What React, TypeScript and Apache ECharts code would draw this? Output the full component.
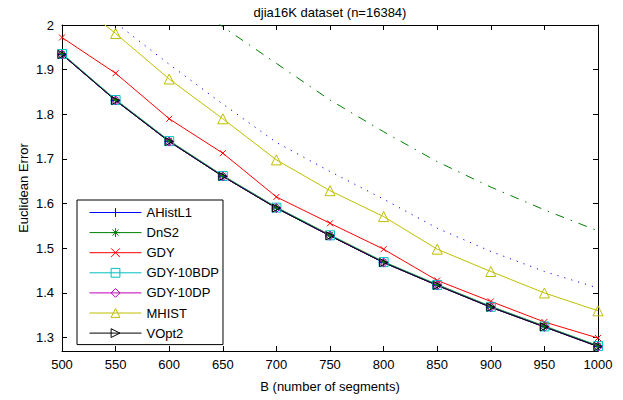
import React, { useEffect, useRef } from "react";
import * as echarts from "echarts";

const segments = [500, 550, 600, 650, 700, 750, 800, 850, 900, 950, 1000];
const aHistL1 = [1.934, 1.831, 1.739, 1.661, 1.59, 1.528, 1.468, 1.417, 1.368, 1.324, 1.28];
const dnS2 = [1.936, 1.833, 1.741, 1.663, 1.592, 1.53, 1.47, 1.419, 1.37, 1.326, 1.282];
const gdy = [1.972, 1.892, 1.79, 1.713, 1.615, 1.556, 1.498, 1.428, 1.381, 1.335, 1.299];
const gdy10BDP = [1.935, 1.832, 1.74, 1.662, 1.591, 1.529, 1.469, 1.418, 1.369, 1.325, 1.281];
const gdy10DP = [1.934, 1.831, 1.739, 1.661, 1.59, 1.528, 1.468, 1.417, 1.368, 1.324, 1.28];
const mHist = [2.076, 1.981, 1.879, 1.79, 1.698, 1.629, 1.571, 1.498, 1.448, 1.4, 1.36];
const vOpt2 = [1.934, 1.831, 1.739, 1.661, 1.59, 1.528, 1.468, 1.417, 1.368, 1.324, 1.28];
const dottedRef = [2.11, 2.005, 1.912, 1.823, 1.737, 1.672, 1.61, 1.545, 1.493, 1.448, 1.411];
const dashDotRef = [2.28, 2.18, 2.085, 1.996, 1.914, 1.832, 1.761, 1.694, 1.637, 1.586, 1.539];
const yTickValues = [1.3, 1.4, 1.5, 1.6, 1.7, 1.8, 1.9, 2];
const legendNames = ["AHistL1", "DnS2", "GDY", "GDY-10BDP", "GDY-10DP", "MHIST", "VOpt2"];
const legendColors = ["#0000ff", "#008000", "#ff0000", "#00bfbf", "#bf00bf", "#bfbf00", "#000000"];

const FONT = "'Liberation Sans', Arial, Helvetica, sans-serif";

const PLUS = "path://M0,-5L0,5M-5,0L5,0";
const CROSS = "path://M-5,-5L5,5M-5,5L5,-5";
const STAR = "path://M0,-5L0,5M-5,0L5,0M-3.5,-3.5L3.5,3.5M-3.5,3.5L3.5,-3.5";
const RTRI = "path://M0,0L10,5L0,10Z";

function pairs(vals: number[]) {
  return segments.map((b, i) => [b, vals[i]]);
}

function markedSeries(name: string, vals: number[], color: string, symbol: string, size: number) {
  return {
    name,
    type: "line",
    data: pairs(vals),
    symbol,
    symbolSize: size,
    showSymbol: true,
    lineStyle: { color, width: 1 },
    itemStyle: { color: "rgba(0,0,0,0)", borderColor: color, borderWidth: 1 },
    emphasis: { disabled: true },
  };
}

export default function App() {
  const ref = useRef<HTMLDivElement>(null);
  useEffect(() => {
    if (!ref.current) return;
    const chart = echarts.init(ref.current, undefined, { renderer: "svg" });
    const axisLine = { show: true, lineStyle: { color: "#000", width: 1 } };
    const tick = { show: true, inside: true, length: 5, lineStyle: { color: "#000" } };
    chart.setOption({
      animation: false,
      backgroundColor: "#fff",
      textStyle: { fontFamily: FONT },
      grid: { left: 62, right: 25, top: 25, bottom: 49, containLabel: false },
      graphic: [
        {
          type: "text",
          x: 330,
          y: 12,
          style: {
            text: "djia16K dataset (n=16384)",
            font: `13px ${FONT}`,
            fill: "#000",
            textAlign: "center",
            textVerticalAlign: "middle",
          },
        },
      ],
      legend: {
        data: legendNames.map((n, i) => ({
          name: n,
          lineStyle: { color: legendColors[i], width: 1 },
          itemStyle: { color: "rgba(0,0,0,0)", borderColor: legendColors[i], borderWidth: 1 },
        })),
        orient: "vertical",
        left: 77,
        top: 200,
        itemWidth: 52,
        itemHeight: 11,
        itemGap: 7.1,
        padding: [6, 4, 5, 12],
        borderColor: "#000",
        borderWidth: 1,
        backgroundColor: "#fff",
        textStyle: { color: "#000", fontSize: 13, fontFamily: FONT, lineHeight: 11 },
        selectedMode: false,
      },
      xAxis: [
        {
          type: "value",
          min: 500,
          max: 1000,
          interval: 50,
          position: "bottom",
          name: "B (number of segments)",
          nameLocation: "middle",
          nameGap: 29,
          nameMoveOverlap: false,
          nameTextStyle: { color: "#000", fontSize: 13, fontFamily: FONT },
          axisLine,
          axisTick: tick,
          axisLabel: {
            color: "#000",
            fontSize: 13,
            fontFamily: FONT,
            margin: 7,
            formatter: (v: number) => String(v),
          },
          splitLine: { show: false },
        },
        {
          type: "value",
          min: 500,
          max: 1000,
          interval: 50,
          position: "top",
          axisLine,
          axisTick: tick,
          axisLabel: { show: false },
          splitLine: { show: false },
        },
      ],
      yAxis: [
        {
          type: "value",
          min: 1.27,
          max: 2,
          position: "left",
          name: "Euclidean Error",
          nameLocation: "middle",
          nameGap: 32,
          nameMoveOverlap: false,
          nameTextStyle: { color: "#000", fontSize: 13, fontFamily: FONT },
          axisLine,
          axisTick: { ...tick, customValues: yTickValues },
          axisLabel: {
            color: "#000",
            fontSize: 13,
            fontFamily: FONT,
            margin: 8,
            customValues: yTickValues,
            formatter: (v: number) => String(v),
          },
          splitLine: { show: false },
        },
        {
          type: "value",
          min: 1.27,
          max: 2,
          position: "right",
          axisLine,
          axisTick: { ...tick, customValues: yTickValues },
          axisLabel: { show: false, customValues: yTickValues },
          splitLine: { show: false },
        },
      ],
      series: [
        {
          name: "dotted",
          type: "line",
          data: pairs(dottedRef),
          symbol: "none",
          lineStyle: { color: "#0000ff", width: 1, type: [1.2, 6] },
          emphasis: { disabled: true },
        },
        {
          name: "dashdot",
          type: "line",
          data: pairs(dashDotRef),
          symbol: "none",
          lineStyle: { color: "#008000", width: 1, type: [9, 7, 1.5, 7] },
          emphasis: { disabled: true },
        },
        markedSeries("MHIST", mHist, "#bfbf00", "triangle", 10),
        markedSeries("GDY", gdy, "#ff0000", CROSS, 6),
        markedSeries("AHistL1", aHistL1, "#0000ff", PLUS, 8),
        markedSeries("DnS2", dnS2, "#008000", STAR, 8),
        markedSeries("GDY-10BDP", gdy10BDP, "#00bfbf", "rect", 9),
        markedSeries("GDY-10DP", gdy10DP, "#bf00bf", "diamond", 9),
        markedSeries("VOpt2", vOpt2, "#000000", RTRI, 8),
      ],
    });
    return () => chart.dispose();
  }, []);
  return (
    <div
      ref={ref}
      style={{ position: "fixed", left: 0, top: 0, width: 623, height: 400, background: "#fff" }}
    />
  );
}
